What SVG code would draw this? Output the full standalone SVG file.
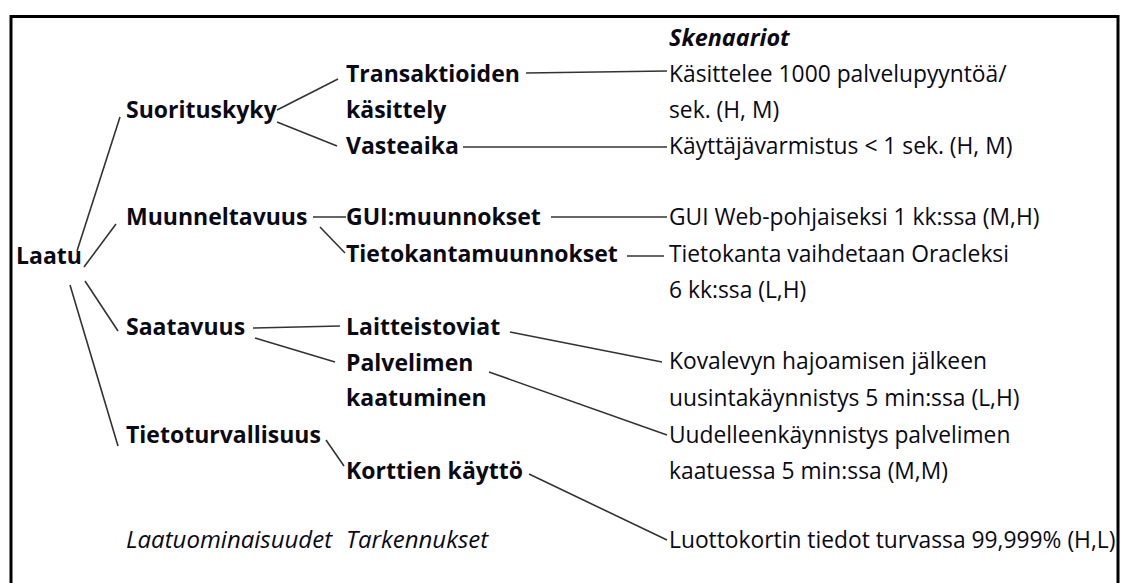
<svg xmlns="http://www.w3.org/2000/svg" width="1124" height="583" viewBox="0 0 1124 583">
  <style>
    text { font-family: "Open Sans", Lato, "Liberation Sans", sans-serif; font-size: 22.8px; fill: #0a0a14; }
    .q { font-weight: bold; font-size: 23px; }
    .h { font-style: italic; font-size: 24px; }
    .hb { font-style: italic; font-weight: bold; font-size: 23.4px; }
    .edge { stroke: #333; stroke-width: 1.6; fill: none; }
  </style>
  <rect width="1124" height="583" fill="#fff"/>
  <!-- frame -->
  <path d="M11 600 V16.5 H1118 V600" fill="none" stroke="#000" stroke-width="3"/>

  <g id="connectors">
    <line class="edge" x1="77" y1="251" x2="120" y2="117"/>
    <line class="edge" x1="84" y1="267" x2="116" y2="224"/>
    <line class="edge" x1="85" y1="281" x2="118" y2="331"/>
    <line class="edge" x1="70" y1="285" x2="118" y2="446"/>
    <line class="edge" x1="277" y1="110" x2="338" y2="79"/>
    <line class="edge" x1="277" y1="122" x2="337" y2="146"/>
    <line class="edge" x1="526" y1="73" x2="667" y2="71"/>
    <line class="edge" x1="463" y1="147" x2="667" y2="147"/>
    <line class="edge" x1="313" y1="217" x2="346" y2="217"/>
    <line class="edge" x1="320" y1="227" x2="345" y2="253"/>
    <line class="edge" x1="551" y1="217" x2="667" y2="217"/>
    <line class="edge" x1="627" y1="256" x2="664" y2="256"/>
    <line class="edge" x1="253" y1="328" x2="340" y2="326"/>
    <line class="edge" x1="255" y1="338" x2="335" y2="362"/>
    <line class="edge" x1="510" y1="332" x2="662" y2="362"/>
    <line class="edge" x1="489" y1="372" x2="667" y2="435"/>
    <line class="edge" x1="326" y1="440" x2="344" y2="466"/>
    <line class="edge" x1="529" y1="474" x2="667" y2="540"/>
  </g>

  <g id="root"><text class="q" x="16" y="264">Laatu</text></g>

  <g id="suorituskyky"><text class="q" x="126" y="118">Suorituskyky</text></g>
  <g id="muunneltavuus"><text class="q" x="126" y="225">Muunneltavuus</text></g>
  <g id="saatavuus"><text class="q" x="126" y="335">Saatavuus</text></g>
  <g id="tietoturvallisuus"><text class="q" x="126" y="443">Tietoturvallisuus</text></g>

  <g id="transaktioiden"><text class="q" x="346" y="82">Transaktioiden</text><text class="q" x="346" y="118">käsittely</text></g>
  <g id="vasteaika"><text class="q" x="346" y="154">Vasteaika</text></g>
  <g id="gui"><text class="q" x="346" y="225">GUI:muunnokset</text></g>
  <g id="tietokanta"><text class="q" x="346" y="262">Tietokantamuunnokset</text></g>
  <g id="laitteistoviat"><text class="q" x="346" y="335">Laitteistoviat</text></g>
  <g id="palvelimen"><text class="q" x="346" y="371">Palvelimen</text><text class="q" x="346" y="406">kaatuminen</text></g>
  <g id="korttien"><text class="q" x="346" y="479">Korttien käyttö</text></g>

  <g id="s-skenaariot"><text class="hb" x="669" y="46">Skenaariot</text></g>
  <g id="s1"><text x="669" y="82">Käsittelee 1000 palvelupyyntöä/</text><text x="669" y="118">sek. (H, M)</text></g>
  <g id="s2"><text x="669" y="154">Käyttäjävarmistus &lt; 1 sek. (H, M)</text></g>
  <g id="s3"><text x="669" y="225">GUI Web-pohjaiseksi 1 kk:ssa (M,H)</text></g>
  <g id="s4"><text x="669" y="262">Tietokanta vaihdetaan Oracleksi</text><text x="669" y="298">6 kk:ssa (L,H)</text></g>
  <g id="s5"><text x="669" y="369">Kovalevyn hajoamisen jälkeen</text><text x="669" y="406">uusintakäynnistys 5 min:ssa (L,H)</text></g>
  <g id="s6"><text x="669" y="443">Uudelleenkäynnistys palvelimen</text><text x="669" y="479">kaatuessa 5 min:ssa (M,M)</text></g>
  <g id="s7"><text x="669" y="548">Luottokortin tiedot turvassa 99,999% (H,L)</text></g>

  <g id="legend"><text class="h" x="126" y="548">Laatuominaisuudet</text><text class="h" x="346" y="548">Tarkennukset</text></g>
</svg>
